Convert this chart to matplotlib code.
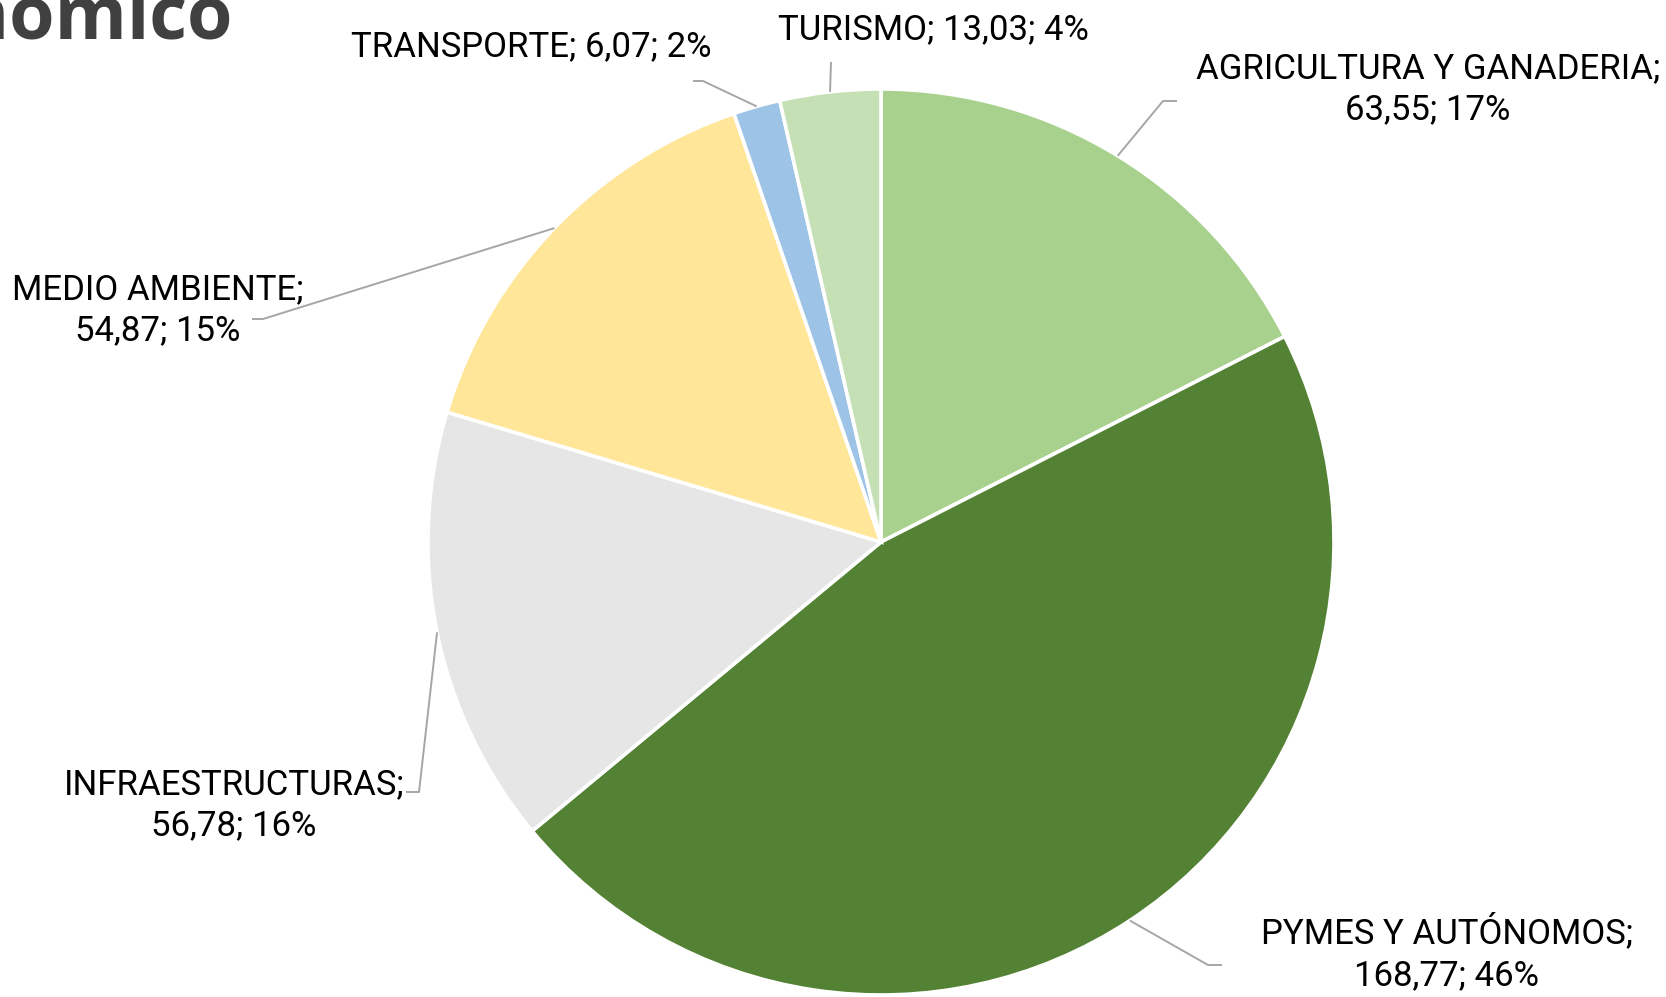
import numpy as np
import matplotlib
matplotlib.use("Agg")
import matplotlib.pyplot as plt
from matplotlib import font_manager as fm

categories = ["AGRICULTURA Y GANADERIA", "PYMES Y AUTÓNOMOS", "INFRAESTRUCTURAS",
              "MEDIO AMBIENTE", "TRANSPORTE", "TURISMO"]
values = [63.55, 168.77, 56.78, 54.87, 6.07, 13.03]
percent_labels = ["17%", "46%", "16%", "15%", "2%", "4%"]
value_labels = ["63,55", "168,77", "56,78", "54,87", "6,07", "13,03"]
colors = ["#A9D18E", "#548235", "#E6E6E6", "#FFE699", "#9DC3E6", "#C5E0B4"]

names = {f.name for f in fm.fontManager.ttflist}
fams = [f for f in ["Liberation Sans Narrow", "Roboto", "DejaVu Sans"] if f in names]
plt.rcParams['font.family'] = fams

W, H = 1666, 997
fig = plt.figure(figsize=(W / 100, H / 100), dpi=100)
ax = fig.add_axes([0, 0, 1, 1])

cx, cy, R = 881, H - 542, 453
wedges, _ = ax.pie(values, colors=colors, startangle=90, counterclock=False,
                   center=(cx, cy), radius=R, frame=True,
                   wedgeprops=dict(edgecolor='white', linewidth=2.6))
ax.set_xlim(0, W)
ax.set_ylim(0, H)
ax.set_aspect('equal')
ax.axis('off')

# label layout: (elbow point, end point, text center)
layout = [
    ((1163, 101), (1177, 101), (1428, 89), 2),
    ((1208, 965), (1222, 965), (1447, 953), 2),
    ((419, 792), (406, 792), (234, 805), 2),
    ((263, 319), (252, 319), (158, 310), 2),
    ((703, 81), (693, 81), (531, 47), 1),
    ((831, 62), (831, 62), (933, 30), 1),
]

for w, cat, v, p, (elbow, end, tpos, nl) in zip(wedges, categories, value_labels,
                                                 percent_labels, layout):
    ang = np.deg2rad((w.theta1 + w.theta2) / 2)
    sx, sy = cx + R * np.cos(ang), cy + R * np.sin(ang)
    xs = [sx, elbow[0], end[0]]
    ys = [sy, H - elbow[1], H - end[1]]
    ax.plot(xs, ys, color="#A6A6A6", lw=1.4, solid_capstyle='butt')
    if nl == 2:
        txt = f"{cat};\n{v}; {p}"
    else:
        txt = f"{cat}; {v}; {p}"
    ax.text(tpos[0], H - tpos[1], txt, ha='center', va='center', fontsize=25,
            color='black', linespacing=1.33)

fig.text(232 / W, 1 - 20 / H, "Impacto económico", ha='right', va='center',
         fontsize=53, fontweight='bold', color='#404040', family=['Open Sans', 'DejaVu Sans'])

fig.savefig("out.png", dpi=100, facecolor='white')
